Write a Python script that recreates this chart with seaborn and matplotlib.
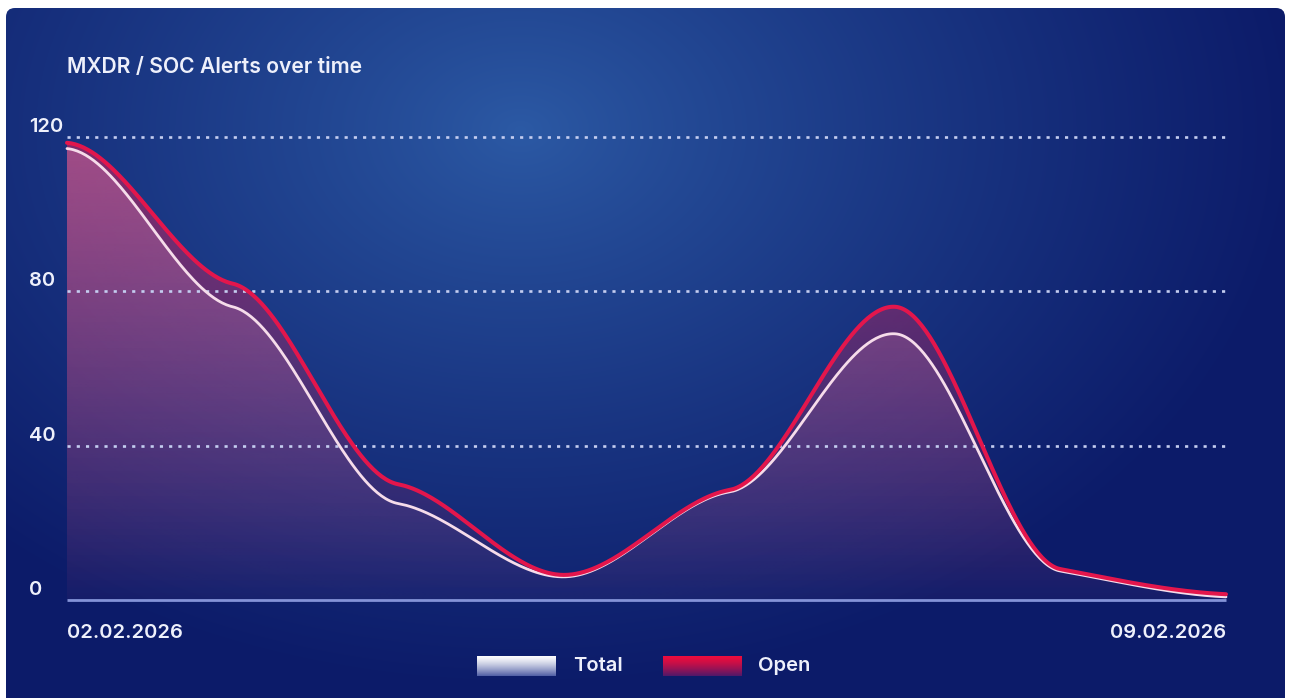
import numpy as np
import pandas as pd
import matplotlib
matplotlib.use("Agg")
import matplotlib.pyplot as plt
import seaborn as sns
from matplotlib.patches import FancyBboxPatch, Polygon

# ---------------- data ----------------
dates = ["02.02.2026", "03.02.2026", "04.02.2026", "05.02.2026",
         "06.02.2026", "07.02.2026", "08.02.2026", "09.02.2026"]
total_vals = [117, 76, 25, 6, 28, 69, 7.5, 0.8]
open_vals = [118.5, 82, 30, 6.5, 28.5, 76, 8, 1.5]
y_ticks = [0, 40, 80, 120]
title = "MXDR / SOC Alerts over time"
series_names = ["Total", "Open"]

W, H = 1289, 698
sns.set_theme(style="white")
plt.rcParams["font.family"] = ["Inter", "DejaVu Sans"]

fig = plt.figure(figsize=(W / 100, H / 100), dpi=100)
fig.patch.set_facecolor("white")

# ---------------- background panel (radial gradient, rounded) ----------------
bg = fig.add_axes([0, 0, 1, 1])
bg.set_xlim(0, W)
bg.set_ylim(H, 0)
bg.axis("off")
yy, xx = np.mgrid[0:H, 0:W]
d = np.sqrt(((xx - 520) / 780.0) ** 2 + ((yy - 130) / 560.0) ** 2)
t = np.clip(d, 0, 1) ** 0.85
c_in = np.array([44, 90, 165]) / 255.0
c_out = np.array([12, 27, 105]) / 255.0
img = c_in[None, None, :] * (1 - t[..., None]) + c_out[None, None, :] * t[..., None]
im = bg.imshow(img, extent=[0, W, H, 0], origin="upper", interpolation="bilinear", zorder=0)
panel = FancyBboxPatch((6, 8), 1279, 720, boxstyle="round,pad=0,rounding_size=9",
                       transform=bg.transData, facecolor="none", edgecolor="none")
bg.add_patch(panel)
im.set_clip_path(panel)

# ---------------- main axes ----------------
px_left, px_right = 67, 1226
px_zero, px_120 = 600, 137
ppu = (px_zero - px_120) / 120.0
ppd = (px_right - px_left) / 7.0
ax_l, ax_r = 55, 1240
ax_b, ax_t = 612, 125
ax = fig.add_axes([ax_l / W, 1 - ax_b / H, (ax_r - ax_l) / W, (ax_b - ax_t) / H])
ax.set_facecolor("none")
for s in ax.spines.values():
    s.set_visible(False)


def smooth(ys, k=0.22, n=80):
    ys = np.asarray(ys, float)
    m = np.zeros_like(ys)
    m[1:-1] = (ys[2:] - ys[:-2]) / 2.0 * k
    m[0] = (ys[1] - ys[0]) * 0.1
    m[-1] = (ys[-1] - ys[-2]) * 0.3
    xs_out, ys_out = [], []
    for i in range(len(ys) - 1):
        tt = np.linspace(0, 1, n, endpoint=(i == len(ys) - 2))
        h00 = 2 * tt**3 - 3 * tt**2 + 1
        h10 = tt**3 - 2 * tt**2 + tt
        h01 = -2 * tt**3 + 3 * tt**2
        h11 = tt**3 - tt**2
        yv = h00 * ys[i] + h10 * m[i] + h01 * ys[i + 1] + h11 * m[i + 1]
        xs_out.append(i + tt)
        ys_out.append(yv)
    return np.concatenate(xs_out), np.concatenate(ys_out)


x_idx = np.arange(len(dates))
xs_t, ys_t = smooth(total_vals)
xs_o, ys_o = smooth(open_vals)


def gradient_fill(xs, ys, rgb, a_top, a_bot, z):
    verts = np.column_stack([np.r_[xs[0], xs, xs[-1]], np.r_[0, ys, 0]])
    poly = Polygon(verts, closed=True, facecolor="none", edgecolor="none", transform=ax.transData)
    ax.add_patch(poly)
    nrow = 256
    a = np.linspace(a_top, a_bot, nrow)
    arr = np.zeros((nrow, 2, 4))
    arr[..., :3] = np.array(rgb) / 255.0
    arr[..., 3] = a[:, None]
    gi = ax.imshow(arr, extent=[xs[0], xs[-1], 0, 120], origin="upper", aspect="auto",
                   interpolation="bilinear", zorder=z)
    gi.set_clip_path(poly)


gradient_fill(xs_o, ys_o, (215, 35, 90), 0.58, 0.03, 1)
gradient_fill(xs_t, ys_t, (230, 160, 205), 0.30, 0.02, 2)

# grid lines
for v in y_ticks[1:]:
    ax.hlines(v, 0, 7, colors="#c4cdf0", linewidth=1.9, linestyles=(0, (1.2, 2.3)), zorder=3)
# baseline
ax.hlines(0, 0, 7, colors="#8493d8", linewidth=2.0, zorder=4)

df = pd.DataFrame({"x": np.r_[xs_t, xs_o], "y": np.r_[ys_t, ys_o],
                   "series": [series_names[0]] * len(xs_t) + [series_names[1]] * len(xs_o)})
sns.lineplot(data=df[df.series == "Total"], x="x", y="y", color="#f6dcea", linewidth=2.0,
             ax=ax, legend=False, zorder=5, sort=False)
sns.lineplot(data=df[df.series == "Open"], x="x", y="y", color="#e3164c", linewidth=2.9,
             ax=ax, legend=False, zorder=6, sort=False)
ax.set_xlabel("")
ax.set_ylabel("")
ax.set_xticks([])
ax.set_yticks([])
ax.set_xlim(-(px_left - ax_l) / ppd, 7 + (ax_r - px_right) / ppd)
ax.set_ylim(-(ax_b - px_zero) / ppu, 120 + (px_120 - ax_t) / ppu)

txt_color = "#eef0fb"
fs = 14.5
fw = "semibold"
for v in y_ticks:
    ax.annotate(str(v), xy=(29, v), xycoords=("figure pixels", "data"),
                xytext=(0, 10), textcoords="offset pixels", ha="left", va="center",
                color=txt_color, fontsize=fs, fontweight=fw, annotation_clip=False)

ax.annotate(dates[0], xy=(x_idx[0], 0), xycoords="data", xytext=(0, -33), textcoords="offset pixels",
            ha="left", va="center", color=txt_color, fontsize=fs, fontweight=fw, annotation_clip=False)
ax.annotate(dates[-1], xy=(x_idx[-1], 0), xycoords="data", xytext=(0, -33), textcoords="offset pixels",
            ha="right", va="center", color=txt_color, fontsize=fs, fontweight=fw, annotation_clip=False)

fig.text(67 / W, 1 - 67 / H, title, ha="left", va="center", color=txt_color,
         fontsize=15.2, fontweight=fw)


# legend
def swatch(x0, y0, w, h, top, bot, label, lx):
    sax = fig.add_axes([x0 / W, 1 - (y0 + h) / H, w / W, h / H])
    sax.axis("off")
    n = 64
    tt = np.linspace(0, 1, n)[:, None] ** 1.4
    arr = np.array(top)[None, :] / 255.0 * (1 - tt) + np.array(bot)[None, :] / 255.0 * tt
    sax.imshow(arr[:, None, :], aspect="auto", interpolation="bilinear", extent=[0, 1, 0, 1])
    fig.text(lx / W, 1 - (y0 + h / 2) / H, label, ha="left", va="center", color=txt_color,
             fontsize=fs, fontweight=fw)


swatch(477, 656, 79, 20, (255, 255, 255), (80, 95, 165), series_names[0], 573)
swatch(663, 656, 79, 20, (240, 12, 60), (80, 25, 105), series_names[1], 758)

fig.savefig("out.png", dpi=100, facecolor=fig.get_facecolor())
